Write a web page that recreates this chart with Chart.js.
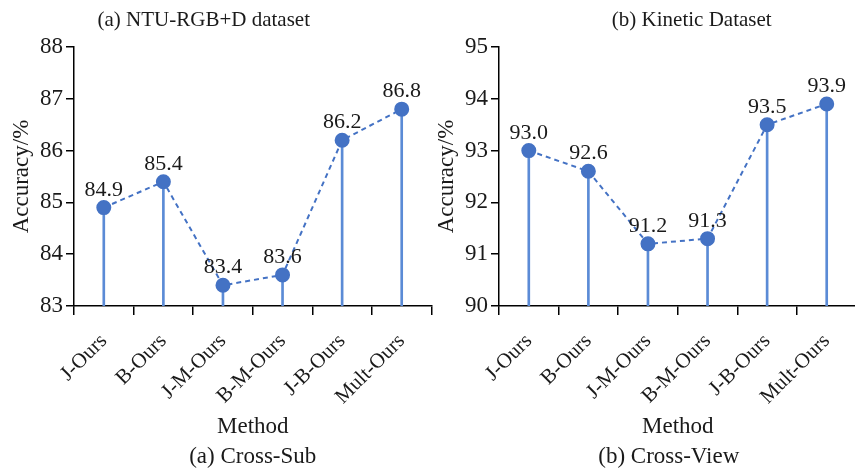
<!DOCTYPE html>
<html>
<head>
<meta charset="utf-8">
<script src="https://cdn.jsdelivr.net/npm/chart.js@4.4.1/dist/chart.umd.min.js"></script>
<style>
  html, body { margin:0; padding:0; background:#fff; overflow:hidden; width:855px; height:470px; }
  .panel { position:absolute; top:0; width:440px; height:470px; }
  #p1 { left:0; }
  #p2 { left:425px; }
</style>
</head>
<body>
<div class="panel" id="p1"><canvas id="c1"></canvas></div>
<div class="panel" id="p2"><canvas id="c2"></canvas></div>
<script>
const categories = ['J-Ours', 'B-Ours', 'J-M-Ours', 'B-M-Ours', 'J-B-Ours', 'Mult-Ours'];
const crossSubValues = [84.9, 85.4, 83.4, 83.6, 86.2, 86.8];
const crossViewValues = [93.0, 92.6, 91.2, 91.3, 93.5, 93.9];
const crossSubTicks = [83, 84, 85, 86, 87, 88];
const crossViewTicks = [90, 91, 92, 93, 94, 95];
const crossSubTitle = '(a) NTU-RGB+D dataset';
const crossViewTitle = '(b) Kinetic Dataset';
const crossSubCaption = '(a) Cross-Sub';
const crossViewCaption = '(b) Cross-View';
const yTitle = 'Accuracy/%';
const xTitle = 'Method';

const SERIF = '"Liberation Serif", "Times New Roman", serif';
const TEXT = '#1a1a1a';
const BLUE = '#4472C4';
const STEM = '#5B8BD6';

Chart.defaults.font.family = SERIF;
Chart.defaults.color = TEXT;

const textPlugin = {
  id: 'texts',
  afterDraw(chart, args, opts) {
    const ctx = chart.ctx;
    const ca = chart.chartArea;
    const cx = (ca.left + ca.right) / 2;
    ctx.save();
    ctx.fillStyle = TEXT;
    ctx.textAlign = 'center';
    ctx.textBaseline = 'middle';
    // top title
    ctx.font = '21px ' + SERIF;
    ctx.fillText(opts.title, cx + opts.titleDx, 20);
    // y title
    ctx.save();
    ctx.font = '23px ' + SERIF;
    ctx.translate(22, (ca.top + ca.bottom) / 2);
    ctx.rotate(-Math.PI / 2);
    ctx.fillText(yTitle, 0, 0);
    ctx.restore();
    // x title and caption
    ctx.font = '23px ' + SERIF;
    ctx.fillText(xTitle, cx, 427);
    ctx.fillText(opts.caption, cx + opts.captionDx, 457);
    // data labels
    const meta = chart.getDatasetMeta(1);
    const ds = chart.data.datasets[1].data;
    ctx.font = '22px ' + SERIF;
    ctx.textBaseline = 'alphabetic';
    meta.data.forEach((pt, i) => {
      ctx.fillText(ds[i].toFixed(1), pt.x, pt.y - 12);
    });
    ctx.restore();
  }
};

function makeChart(id, values, ticks, title, caption, titleDx, captionDx) {
  return new Chart(document.getElementById(id), {
    data: {
      labels: categories,
      datasets: [
        {
          type: 'bar',
          data: values,
          backgroundColor: STEM,
          barThickness: 2,
          order: 2
        },
        {
          type: 'line',
          data: values,
          borderColor: BLUE,
          borderWidth: 2,
          borderDash: [5, 4],
          pointBackgroundColor: BLUE,
          pointBorderColor: BLUE,
          pointRadius: 6.5,
          pointHoverRadius: 6.5,
          tension: 0,
          fill: false,
          order: 1
        }
      ]
    },
    options: {
      responsive: true,
      maintainAspectRatio: false,
      devicePixelRatio: 1,
      animation: false,
      events: [],
      layout: { padding: { top: 47, right: 6, left: 0, bottom: 0 } },
      plugins: {
        legend: { display: false },
        tooltip: { enabled: false },
        texts: { title, caption, titleDx, captionDx }
      },
      scales: {
        x: {
          type: 'category',
          offset: true,
          grid: { display: true, drawOnChartArea: false, drawTicks: true, tickLength: 9, color: '#000', lineWidth: 1.5, offset: true },
          border: { display: true, color: '#000', width: 1.5 },
          ticks: { minRotation: 45, maxRotation: 45, autoSkip: false, padding: 14, font: { size: 21, family: SERIF }, color: TEXT },
          afterFit(s) { s.height = 164; }
        },
        y: {
          type: 'linear',
          min: ticks[0],
          max: ticks[ticks.length - 1],
          afterBuildTicks(s) { s.ticks = ticks.map(v => ({ value: v })); },
          grid: { display: true, drawOnChartArea: false, drawTicks: true, tickLength: 8, color: '#000', lineWidth: 1.5 },
          border: { display: true, color: '#000', width: 1.5 },
          ticks: { padding: 3, font: { size: 23, family: SERIF }, color: TEXT },
          afterFit(s) { s.width = 74; }
        }
      }
    },
    plugins: [textPlugin]
  });
}

makeChart('c1', crossSubValues, crossSubTicks, crossSubTitle, crossSubCaption, -49, 0);
makeChart('c2', crossViewValues, crossViewTicks, crossViewTitle, crossViewCaption, 14, -9);
</script>
</body>
</html>
